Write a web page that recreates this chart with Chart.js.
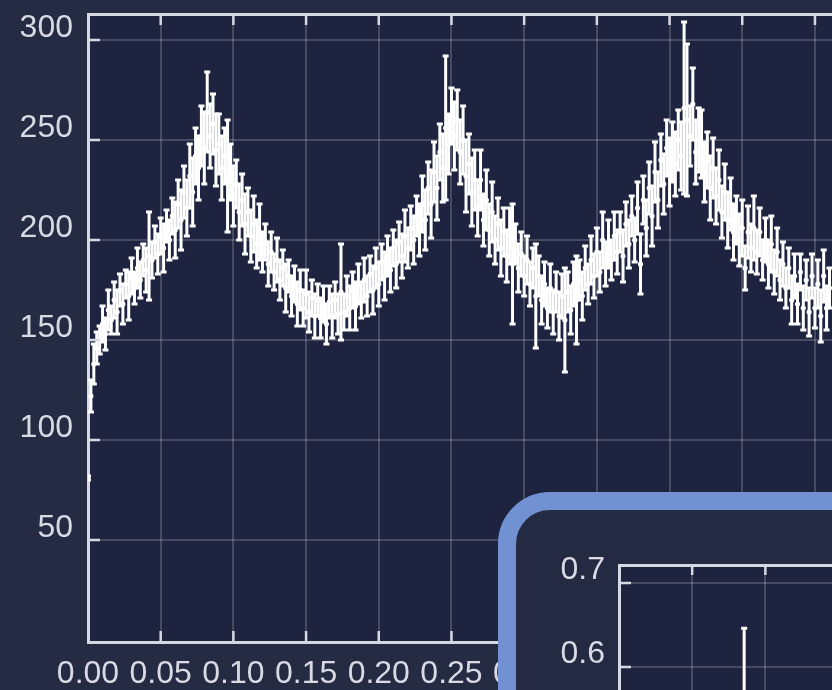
<!DOCTYPE html>
<html><head><meta charset="utf-8">
<script src="https://cdn.jsdelivr.net/npm/chart.js@4.4.1/dist/chart.umd.min.js"></script>
<style>
html,body{margin:0;padding:0;background:#252b43;overflow:hidden;}
#wrap{position:relative;width:832px;height:690px;overflow:hidden;background:#252b43;filter:blur(0.6px);}
#main{position:absolute;left:0;top:0;}
#inset{position:absolute;left:498px;top:492px;width:700px;height:600px;border:18px solid #7191d2;border-radius:52px;background:#242a42;overflow:hidden;}
#insetCanvas{position:absolute;left:0;top:0;}
</style></head><body>
<div id="wrap">
<canvas id="main" width="1000" height="690"></canvas>
<div id="inset"><canvas id="insetCanvas" width="700" height="541"></canvas></div>
</div>
<script>
// ---- main panel data ----
const xValues = [
0,0.002,0.004,0.006,0.008,0.010,0.012,0.014,0.016,0.018,
0.020,0.022,0.024,0.026,0.028,0.030,0.032,0.034,0.036,0.038,
0.040,0.042,0.044,0.046,0.048,0.050,0.052,0.054,0.056,0.058,
0.060,0.062,0.064,0.066,0.068,0.070,0.072,0.074,0.076,0.078,
0.080,0.082,0.084,0.086,0.088,0.090,0.092,0.094,0.096,0.098,
0.100,0.102,0.104,0.106,0.108,0.110,0.112,0.114,0.116,0.118,
0.120,0.122,0.124,0.126,0.128,0.130,0.132,0.134,0.136,0.138,
0.140,0.142,0.144,0.146,0.148,0.150,0.152,0.154,0.156,0.158,
0.160,0.162,0.164,0.166,0.168,0.170,0.172,0.174,0.176,0.178,
0.180,0.182,0.184,0.186,0.188,0.190,0.192,0.194,0.196,0.198,
0.200,0.202,0.204,0.206,0.208,0.210,0.212,0.214,0.216,0.218,
0.220,0.222,0.224,0.226,0.228,0.230,0.232,0.234,0.236,0.238,
0.240,0.242,0.244,0.246,0.248,0.250,0.252,0.254,0.256,0.258,
0.260,0.262,0.264,0.266,0.268,0.270,0.272,0.274,0.276,0.278,
0.280,0.282,0.284,0.286,0.288,0.290,0.292,0.294,0.296,0.298,
0.300,0.302,0.304,0.306,0.308,0.310,0.312,0.314,0.316,0.318,
0.320,0.322,0.324,0.326,0.328,0.330,0.332,0.334,0.336,0.338,
0.340,0.342,0.344,0.346,0.348,0.350,0.352,0.354,0.356,0.358,
0.360,0.362,0.364,0.366,0.368,0.370,0.372,0.374,0.376,0.378,
0.380,0.382,0.384,0.386,0.388,0.390,0.392,0.394,0.396,0.398,
0.400,0.402,0.404,0.406,0.408,0.410,0.412,0.414,0.416,0.418,
0.420,0.422,0.424,0.426,0.428,0.430,0.432,0.434,0.436,0.438,
0.440,0.442,0.444,0.446,0.448,0.450,0.452,0.454,0.456,0.458,
0.460,0.462,0.464,0.466,0.468,0.470,0.472,0.474,0.476,0.478,
0.480,0.482,0.484,0.486,0.488,0.490,0.492,0.494,0.496,0.498,
0.500,0.502,0.504,0.506,0.508,0.510];
const yValues = [
81,122,138,146,150,158,153,165,160,170,
164,175,168,178,172,182,176,186,180,190,
185,192,190,199,193,202,196,207,200,212,
205,218,210,224,216,232,224,242,236,252,
246,264,252,258,245,248,236,242,232,234,
222,228,214,220,208,214,202,208,198,204,
194,199,188,194,184,190,180,186,176,182,
172,178,168,175,166,173,164,171,162,170,
161,168,158,169,162,170,163,174,164,172,
166,175,167,178,170,180,172,183,175,186,
178,189,182,192,185,196,188,199,192,202,
196,206,200,212,205,218,210,226,218,234,
226,244,236,256,248,262,252,260,244,250,
232,238,224,230,216,230,210,220,205,214,
200,208,196,204,192,202,188,198,186,193,
182,190,178,186,172,182,170,178,166,176,
164,174,162,172,160,174,165,178,170,180,
172,186,178,190,182,194,184,200,188,198,
190,202,194,204,192,208,198,212,200,216,
188,220,206,226,212,234,220,240,228,246,
234,244,238,250,242,266,260,252,268,244,
250,248,234,240,226,236,222,230,214,224,
210,218,204,210,200,206,186,204,196,206,
194,204,190,200,188,198,184,194,180,188,
176,186,170,182,168,184,166,180,164,182,
166,178,162,182,166,176];
const yErrors = [
1,8,10,8,7,9,8,10,7,9,
11,8,10,7,12,9,8,10,9,8,
11,22,9,8,10,9,12,8,10,9,
14,12,15,13,14,16,17,14,16,15,
18,20,16,15,18,15,16,14,28,14,
15,12,14,13,15,12,13,14,12,14,
10,9,11,10,9,11,10,9,12,8,
10,9,11,10,9,12,10,9,11,8,
10,9,10,8,11,9,10,24,9,10,
11,9,12,10,9,11,10,9,12,10,
11,9,12,10,11,9,12,10,11,13,
10,11,12,10,13,14,15,13,17,15,
16,14,17,36,15,14,17,15,16,17,
18,15,17,15,14,15,13,15,13,15,
12,13,14,12,13,14,30,10,12,11,
10,12,11,10,26,10,12,11,10,12,
11,10,12,11,26,10,12,11,22,10,
12,11,10,12,11,12,10,14,11,12,
10,12,11,10,13,11,12,10,11,13,
15,12,14,13,15,15,14,13,15,14,
17,15,16,15,17,43,38,15,18,16,
16,17,15,14,16,15,14,15,13,14,
14,13,14,12,13,14,11,13,12,16,
11,12,10,11,12,14,11,12,10,11,
10,10,12,11,10,9,11,10,12,11,
10,12,13,13,11,10];
const xTicks = [0,0.05,0.10,0.15,0.20,0.25,0.30,0.35,0.40,0.45,0.50,0.55,0.60];
const yTicks = [50,100,150,200,250,300];

// ---- inset data ----
const insetX = [1.71];
const insetY = [0.50];
const insetErr = [0.146];
const insetXTicks = [0,1,2,3,4,5,6,7,8];
const insetYTicks = [0.3,0.4,0.5,0.6,0.7];

const AXIS = '#d6d9e2';
const GRID = 'rgba(255,255,255,0.18)';
const TXT = '#d8dbe3';
const FONT = {family:"'Liberation Sans', Arial, Helvetica, sans-serif", size:32};

const bgPlugin = {id:'bg', beforeDraw(c, a, o){const {ctx, chartArea:r} = c; ctx.save(); ctx.fillStyle = o.color; ctx.fillRect(r.left, r.top, r.right-r.left, r.bottom-r.top); ctx.restore();}};
const errPlugin = {id:'err', afterDatasetsDraw(c, a, o){
  const {ctx, chartArea:r, scales} = c; const x = scales.x, y = scales.y;
  ctx.save(); ctx.beginPath(); ctx.rect(r.left, r.top, r.right-r.left, r.bottom-r.top); ctx.clip();
  ctx.strokeStyle = o.color; ctx.lineWidth = o.width;
  c.data.datasets[0].data.forEach(p => {
    const px = x.getPixelForValue(p.x), t = y.getPixelForValue(p.y + p.e), b = y.getPixelForValue(p.y - p.e);
    ctx.beginPath(); ctx.moveTo(px, t); ctx.lineTo(px, b);
    ctx.moveTo(px - o.cap, t); ctx.lineTo(px + o.cap, t);
    ctx.moveTo(px - o.cap, b); ctx.lineTo(px + o.cap, b); ctx.stroke();
  });
  ctx.restore();
}};
const inTicks = {id:'inticks', afterDraw(c, a, o){
  const {ctx, chartArea:r, scales} = c;
  ctx.save(); ctx.strokeStyle = o.color; ctx.lineWidth = o.width; ctx.beginPath();
  scales.y.ticks.forEach(t => {const py = scales.y.getPixelForValue(t.value); ctx.moveTo(r.left, py); ctx.lineTo(r.left + o.yLen, py);});
  scales.x.ticks.forEach(t => {const px = scales.x.getPixelForValue(t.value); if (px <= r.left + 1) return;
    ctx.moveTo(px, r.bottom); ctx.lineTo(px, r.bottom - o.bLen); ctx.moveTo(px, r.top); ctx.lineTo(px, r.top + o.tLen);});
  ctx.stroke(); ctx.restore();
}};

function makeChart(canvas, pts, cfg){
  return new Chart(canvas, {
    type:'scatter',
    data:{datasets:[{data:pts, pointRadius:2.6, pointHoverRadius:2.6, pointBackgroundColor:'#ffffff', pointBorderWidth:0, showLine:false}]},
    options:{
      responsive:false, animation:false, events:[], layout:{padding:0},
      plugins:{legend:{display:false}, tooltip:{enabled:false}, bg:{color:'#1e2440'},
        err:{color:'#ffffff', width:3, cap:3},
        inticks:{color:AXIS, width:2.5, yLen:12, bLen:11, tLen:cfg.tLen}},
      scales:{
        x:{type:'linear', position:'bottom', min:cfg.xmin, max:cfg.xmax,
          afterBuildTicks:s => {s.ticks = cfg.xt.map(v => ({value:v}));},
          afterFit:s => {s.height = 48; s.paddingLeft = 0; s.paddingRight = 0;},
          grid:{color:GRID, lineWidth:2, drawTicks:false}, border:{color:AXIS, width:3},
          ticks:{color:TXT, font:FONT, padding:13, maxRotation:0, autoSkip:false, callback:cfg.xfmt}},
        x2:{type:'linear', axis:'x', position:'top', min:cfg.xmin, max:cfg.xmax,
          afterFit:s => {s.height = cfg.topH; s.paddingLeft = 0; s.paddingRight = 0;},
          grid:{display:false, drawTicks:false}, border:{color:AXIS, width:3}, ticks:{display:false}},
        y:{type:'linear', min:cfg.ymin, max:cfg.ymax,
          afterBuildTicks:s => {s.ticks = cfg.yt.map(v => ({value:v}));},
          afterFit:s => {s.width = cfg.leftW; s.paddingTop = 0; s.paddingBottom = 0;},
          grid:{color:GRID, lineWidth:2, drawTicks:false}, border:{color:AXIS, width:3},
          ticks:{color:TXT, font:FONT, padding:cfg.yPad, labelOffset:cfg.yOff, callback:cfg.yfmt}}
      }
    },
    plugins:[bgPlugin, errPlugin, inTicks]
  });
}

const mainPts = xValues.map((x, i) => ({x:x, y:yValues[i], e:yErrors[i]}));
makeChart(document.getElementById('main'), mainPts, {
  xmin:0, xmax:0.6255, ymin:-1, ymax:313, xt:xTicks, yt:yTicks,
  xfmt:v => Number(v).toFixed(2), yfmt:v => String(v),
  topH:14, leftW:88, yPad:15, yOff:-12, tLen:11
});

const insetPts = insetX.map((x, i) => ({x:x, y:insetY[i], e:insetErr[i]}));
makeChart(document.getElementById('insetCanvas'), insetPts, {
  xmin:0, xmax:8.122, ymin:0.2, ymax:0.7214, xt:insetXTicks, yt:insetYTicks,
  xfmt:v => String(v), yfmt:v => Number(v).toFixed(1),
  topH:55, leftW:103, yPad:14, yOff:-13, tLen:10
});
</script>
</body></html>
